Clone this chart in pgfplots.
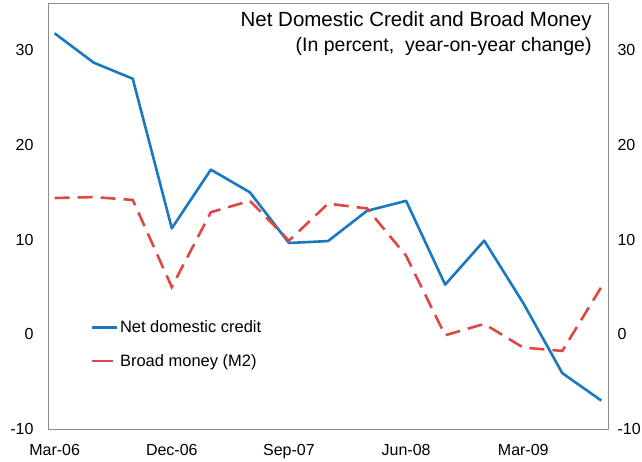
\documentclass[border=0pt]{standalone}
\usepackage{pgfplots}
\pgfplotsset{compat=1.18}
\usepackage{fontspec}
\setmainfont{Liberation Sans}
\definecolor{ndc}{RGB}{24,121,190}
\definecolor{mtwo}{RGB}{222,72,68}
\definecolor{frame}{RGB}{140,140,140}
\pgfplotstableread{
x ndc m2
0 31.8 14.4
1 28.7 14.5
2 27.0 14.2
3 11.2 5.0
4 17.4 12.9
5 15.0 14.1
6 9.65 9.9
7 9.85 13.8
8 13.05 13.3
9 14.1 8.3
10 5.25 -0.1
11 9.9 1.1
12 3.3 -1.4
13 -4.1 -1.75
14 -7.0 5.0
}\datatable
\pgfplotsset{
  common/.style={
    scale only axis, width=560pt, height=426pt,
    xmin=-0.17, xmax=14.17, ymin=-10, ymax=35,
    ytick={-10,0,10,20,30},
    major tick length=0pt,
    tick label style={font=\fontsize{16}{19}\selectfont},
    /pgf/number format/assume math mode=true,
  }
}
\begin{document}
\begin{tikzpicture}
\begin{axis}[common,
  xtick={0,3,6,9,12},
  xticklabels={Mar-06,Dec-06,Sep-07,Jun-08,Mar-09},
  axis line style={draw=frame, line width=0.9pt},
  yticklabel style={xshift=-11pt},
  xticklabel style={yshift=-12pt},
  legend style={draw=none, fill=none, at={(0.07,0.264)}, anchor=north west,
    font=\fontsize{16.5}{19}\selectfont, row sep=16pt,
    /tikz/every even column/.append style={column sep=1pt}},
  legend cell align=left,
  clip=false,
]
\addplot[ndc, line width=2.6pt, line join=round, legend image code/.code={\draw[ndc, solid, line width=2.6pt] (0pt,0pt) -- (25pt,0pt);}] table[x=x, y=ndc] {\datatable};
\addlegendentry{Net domestic credit}
\addplot[mtwo, line width=2.6pt, dash pattern=on 15pt off 8pt, legend image code/.code={\draw[mtwo, solid, line width=2.6pt] (0pt,0pt) -- (21pt,0pt);}] table[x=x, y=m2] {\datatable};
\addlegendentry{Broad money (M2)}
\node[anchor=base east, font=\fontsize{20.5}{24}\selectfont, inner sep=0pt] at (rel axis cs:0.971,0.9437) {Net Domestic Credit and Broad Money};
\node[anchor=base east, font=\fontsize{19.5}{23}\selectfont, inner sep=0pt] at (rel axis cs:0.971,0.887) {(In percent,\ \ year-on-year change)};
\end{axis}
\begin{axis}[common,
  hide x axis,
  axis y line*=right,
  axis line style={draw=none},
  yticklabel style={xshift=6pt},
]
\end{axis}
\pgfresetboundingbox
\path[use as bounding box] (-48pt,-32pt) rectangle (594pt,429pt);
\end{tikzpicture}
\end{document}
